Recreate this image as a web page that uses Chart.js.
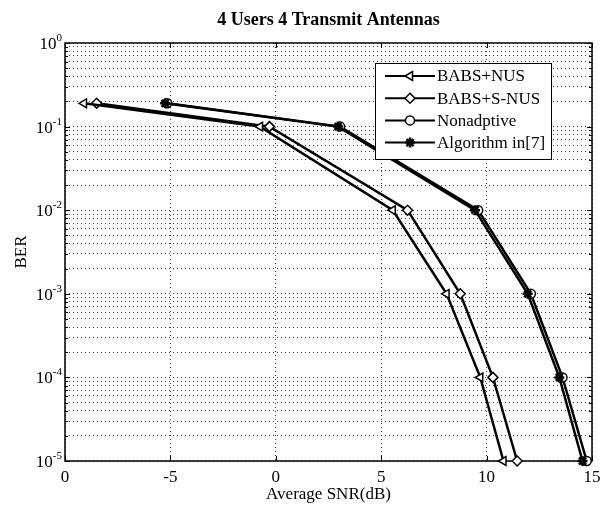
<!DOCTYPE html>
<html>
<head>
<meta charset="utf-8">
<script src="https://cdn.jsdelivr.net/npm/chart.js@4.4.0/dist/chart.umd.min.js"></script>
<style>
html, body { margin: 0; padding: 0; background: #fff; }
#wrap { width: 600px; height: 505px; }
</style>
</head>
<body>
<div id="wrap"><canvas id="berChart" width="600" height="505"></canvas></div>
<script>
// dados
const seriesNames = ['BABS+NUS', 'BABS+S-NUS', 'Nonadptive', 'Algorithm in[7]'];
const berLevels = [0.19, 0.1, 0.01, 0.001, 0.0001, 0.00001];
const snrBabsNus = [-9.1, -0.75, 5.55, 8.1, 9.7, 10.8];
const snrBabsSNus = [-8.5, -0.3, 6.25, 8.75, 10.3, 11.45];
const snrNonadaptive = [-5.15, 3.05, 9.6, 12.1, 13.6, 14.75];
const snrAlgorithm7 = [-5.25, 2.95, 9.45, 11.95, 13.45, 14.55];
const xTickValues = [-10, -5, 0, 5, 10, 15];
const xTickLabels = ['0', '-5', '0', '5', '10', '15'];
const yTickExponents = [0, -1, -2, -3, -4, -5];

const serif = "'Liberation Serif', 'Times New Roman', serif";
const toPoints = (xs) => xs.map((x, i) => ({ x: x, y: berLevels[i] }));

const mkSet = (label, xs, style, extra) => Object.assign({
    label: label,
    data: toPoints(xs),
    borderColor: '#000',
    backgroundColor: '#fff',
    borderWidth: 2.5,
    pointStyle: style,
    pointRadius: 5,
    pointBorderWidth: 1.5,
    pointBackgroundColor: '#fff',
    pointBorderColor: '#000',
    showLine: true,
    tension: 0,
    clip: false
}, extra || {});

// moldura, ticks internos, rótulos e legenda desenhados à mão (estilo MATLAB)
const matlabLook = {
    id: 'matlabLook',
    beforeDatasetsDraw(chart) {
        const { ctx, chartArea: a, scales } = chart;
        const xs = scales.x, ys = scales.y;
        ctx.save();
        ctx.strokeStyle = '#000';
        ctx.lineWidth = 1.5;
        ctx.strokeRect(a.left, a.top, a.right - a.left, a.bottom - a.top);
        ctx.lineWidth = 1;
        ctx.beginPath();
        xTickValues.forEach(v => {
            const px = Math.round(xs.getPixelForValue(v)) + 0.5;
            ctx.moveTo(px, a.bottom); ctx.lineTo(px, a.bottom - 5);
            ctx.moveTo(px, a.top); ctx.lineTo(px, a.top + 5);
        });
        ys.ticks.forEach(t => {
            const py = Math.round(ys.getPixelForValue(t.value)) + 0.5;
            const lg = Math.log10(t.value);
            const len = Math.abs(lg - Math.round(lg)) < 1e-6 ? 5 : 3;
            ctx.moveTo(a.left, py); ctx.lineTo(a.left + len, py);
            ctx.moveTo(a.right, py); ctx.lineTo(a.right - len, py);
        });
        ctx.stroke();
        ctx.restore();
    },
    afterDraw(chart) {
        const { ctx, chartArea: a, scales } = chart;
        const xs = scales.x, ys = scales.y;
        ctx.save();
        ctx.fillStyle = '#000';
        // título
        ctx.font = 'bold 18px ' + serif;
        ctx.textAlign = 'center';
        ctx.textBaseline = 'middle';
        ctx.fillText('4 Users 4 Transmit Antennas', (a.left + a.right) / 2, 20);
        // rótulos do eixo x
        ctx.font = '17px ' + serif;
        xTickValues.forEach((v, i) => {
            ctx.fillText(xTickLabels[i], xs.getPixelForValue(v), a.bottom + 17);
        });
        ctx.fillText('Average SNR(dB)', (a.left + a.right) / 2, 495);
        // rótulos do eixo y com expoente
        yTickExponents.forEach(e => {
            const py = ys.getPixelForValue(Math.pow(10, e));
            const sup = String(e);
            ctx.font = '11px ' + serif;
            const sw = ctx.measureText(sup).width;
            ctx.textAlign = 'left';
            ctx.textBaseline = 'alphabetic';
            ctx.fillText(sup, 62 - sw, py - 2);
            ctx.font = '17px ' + serif;
            ctx.textAlign = 'right';
            ctx.fillText('10', 62 - sw, py + 6);
        });
        // título do eixo y
        ctx.save();
        ctx.translate(22, (a.top + a.bottom) / 2);
        ctx.rotate(-Math.PI / 2);
        ctx.textAlign = 'center';
        ctx.textBaseline = 'middle';
        ctx.font = '17px ' + serif;
        ctx.fillText('BER', 0, 0);
        ctx.restore();
        // caixa da legenda
        const bx = 375, by = 63, bw = 176, bh = 96;
        ctx.fillStyle = '#fff';
        ctx.fillRect(bx, by, bw, bh);
        ctx.strokeStyle = '#000';
        ctx.lineWidth = 1;
        ctx.strokeRect(bx + 0.5, by + 0.5, bw, bh);
        chart.data.datasets.forEach((ds, i) => {
            const ry = by + 13 + i * 22.2;
            ctx.strokeStyle = '#000';
            ctx.lineWidth = 2;
            ctx.beginPath();
            ctx.moveTo(385, ry); ctx.lineTo(435, ry);
            ctx.stroke();
            ctx.fillStyle = ds.pointBackgroundColor;
            ctx.lineWidth = ds.pointBorderWidth;
            Chart.helpers.drawPoint(ctx, {
                pointStyle: ds.pointStyle,
                rotation: ds.pointRotation || 0,
                radius: ds.pointRadius,
                borderWidth: ds.pointBorderWidth
            }, 410, ry);
            ctx.fillStyle = '#000';
            ctx.font = '17px ' + serif;
            ctx.textAlign = 'left';
            ctx.textBaseline = 'middle';
            ctx.fillText(ds.label, 437, ry + 1);
        });
        ctx.restore();
    }
};

const ctx = document.getElementById('berChart').getContext('2d');
new Chart(ctx, {
    type: 'line',
    data: {
        datasets: [
            mkSet(seriesNames[0], snrBabsNus, 'triangle', { pointRotation: -90 }),
            mkSet(seriesNames[1], snrBabsSNus, 'rectRot', { pointRadius: 5 }),
            mkSet(seriesNames[2], snrNonadaptive, 'circle', { pointRadius: 4.5 }),
            mkSet(seriesNames[3], snrAlgorithm7, 'star', { pointRadius: 5, pointBackgroundColor: '#000', pointBorderWidth: 2.5, order: -1 })
        ]
    },
    options: {
        responsive: false,
        animation: false,
        layout: { padding: { left: 65, top: 43, right: 8, bottom: 44 } },
        plugins: { legend: { display: false }, title: { display: false }, tooltip: { enabled: false } },
        scales: {
            x: {
                type: 'linear', min: -10, max: 15,
                afterBuildTicks: (s) => { s.ticks = xTickValues.map(v => ({ value: v })); },
                ticks: { display: false },
                grid: { color: '#444', lineWidth: 1, drawTicks: false },
                border: { display: false, dash: [1, 3] }
            },
            y: {
                type: 'logarithmic', min: 1e-5, max: 1,
                afterBuildTicks: (s) => {
                    const t = [];
                    for (let e = -5; e < 0; e++) {
                        for (let m = 1; m <= 9; m++) t.push({ value: m * Math.pow(10, e) });
                    }
                    t.push({ value: 1 });
                    s.ticks = t;
                },
                ticks: { display: false },
                grid: { color: '#444', lineWidth: 1, drawTicks: false },
                border: { display: false, dash: [1, 3] }
            }
        }
    },
    plugins: [matlabLook]
});
</script>
</body>
</html>
